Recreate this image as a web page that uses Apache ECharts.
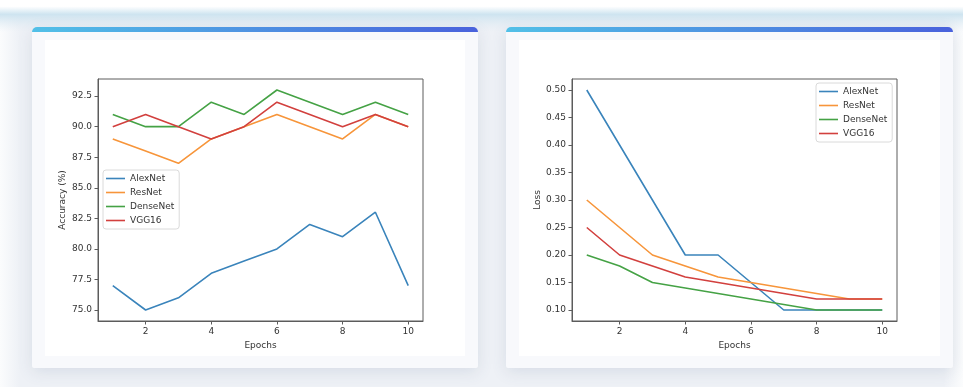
<!DOCTYPE html>
<html><head><meta charset="utf-8">
<script src="https://cdn.jsdelivr.net/npm/echarts@6/dist/echarts.min.js"></script>
<style>html,body{margin:0;padding:0;background:#fff;}#c{width:963px;height:387px;}</style>
</head><body><div id="c"></div><script>
const epochs = [1, 2, 3, 4, 5, 6, 7, 8, 9, 10];
const models = ['AlexNet', 'ResNet', 'DenseNet', 'VGG16'];
const accAlexNet  = [77, 75, 76, 78, 79, 80, 82, 81, 83, 77];
const accResNet   = [89, 88, 87, 89, 90, 91, 90, 89, 91, 90];
const accDenseNet = [91, 90, 90, 92, 91, 93, 92, 91, 92, 91];
const accVGG16    = [90, 91, 90, 89, 90, 92, 91, 90, 91, 90];
const lossAlexNet  = [0.50, 0.40, 0.30, 0.20, 0.20, 0.15, 0.10, 0.10, 0.10, 0.10];
const lossResNet   = [0.30, 0.25, 0.20, 0.18, 0.16, 0.15, 0.14, 0.13, 0.12, 0.12];
const lossDenseNet = [0.20, 0.18, 0.15, 0.14, 0.13, 0.12, 0.11, 0.10, 0.10, 0.10];
const lossVGG16    = [0.25, 0.20, 0.18, 0.16, 0.15, 0.14, 0.13, 0.12, 0.12, 0.12];
const xTicks = [2, 4, 6, 8, 10];
const accTicks = [75, 77.5, 80, 82.5, 85, 87.5, 90, 92.5];
const lossTicks = [0.10, 0.15, 0.20, 0.25, 0.30, 0.35, 0.40, 0.45, 0.50];

const colors = ['#3a84bb', '#f7953a', '#45a245', '#d2403e'];
const FONT = 'DejaVu Sans';
const TXT = '#333';
const SPINE = '#5c5c5c';

const accData = [accAlexNet, accResNet, accDenseNet, accVGG16];
const lossData = [lossAlexNet, lossResNet, lossDenseNet, lossVGG16];

function pairs(vals) { return epochs.map((e, i) => [e, vals[i]]); }

function xAxisCfg(gi) {
  return {
    type: 'value', gridIndex: gi, min: 0.55, max: 10.45,
    name: 'Epochs', nameLocation: 'middle', nameGap: 18,
    nameTextStyle: { fontFamily: FONT, fontSize: 9, color: TXT },
    axisLine: { show: true, onZero: false, lineStyle: { color: SPINE, width: 1 } },
    axisTick: { show: true, length: 3.5, customValues: xTicks, lineStyle: { color: SPINE } },
    axisLabel: { customValues: xTicks, margin: 6, fontFamily: FONT, fontSize: 9, color: TXT },
    splitLine: { show: false }
  };
}
function yAxisCfg(gi, min, max, ticks, digits, name, gap) {
  return {
    type: 'value', gridIndex: gi, min: min, max: max,
    name: name, nameLocation: 'middle', nameGap: gap,
    nameTextStyle: { fontFamily: FONT, fontSize: 9, color: TXT },
    axisLine: { show: true, onZero: false, lineStyle: { color: SPINE, width: 1 } },
    axisTick: { show: true, length: 3.5, customValues: ticks, lineStyle: { color: SPINE } },
    axisLabel: { customValues: ticks, margin: 6, fontFamily: FONT, fontSize: 9, color: TXT,
      formatter: v => Number(v).toFixed(digits) },
    splitLine: { show: false }
  };
}

const series = [];
models.forEach((m, i) => series.push({
  name: m, type: 'line', xAxisIndex: 0, yAxisIndex: 0, data: pairs(accData[i]),
  showSymbol: false, symbol: 'none', lineStyle: { width: 1.6, color: colors[i] }, itemStyle: { color: colors[i] },
  animation: false, z: 3 + i
}));
models.forEach((m, i) => series.push({
  name: m, type: 'line', xAxisIndex: 1, yAxisIndex: 1, data: pairs(lossData[i]),
  showSymbol: false, symbol: 'none', lineStyle: { width: 1.6, color: colors[i] }, itemStyle: { color: colors[i] },
  animation: false, z: 3 + i
}));

function legendCfg(left, top) {
  return {
    orient: 'vertical', left: left, top: top, data: models,
    icon: 'rect', itemWidth: 19, itemHeight: 1.6, itemGap: 3,
    padding: [3, 5, 3, 3],
    borderColor: '#dadada', borderWidth: 1, borderRadius: 3,
    backgroundColor: 'rgba(255,255,255,0.85)',
    textStyle: { fontFamily: FONT, fontSize: 9, color: TXT, lineHeight: 11 },
    selectedMode: false
  };
}

function card(x, y, w, h) {
  return [
    { type: 'rect', z: -5, shape: { x: x, y: y, width: w, height: h, r: [5, 5, 2, 2] },
      style: { fill: '#f8f9fc', shadowBlur: 16, shadowColor: 'rgba(70,90,130,0.14)', shadowOffsetY: 4 } },
    { type: 'rect', z: -4, shape: { x: x, y: y, width: w, height: 5, r: [5, 5, 0, 0] },
      style: { fill: new echarts.graphic.LinearGradient(0, 0, 1, 0, [
        { offset: 0, color: '#52c0e7' }, { offset: 1, color: '#4a62dc' }]) } },
    { type: 'rect', z: -3, shape: { x: x + 13, y: y + 13, width: w - 26, height: h - 25 },
      style: { fill: '#ffffff' } }
  ];
}

const chart = echarts.init(document.getElementById('c'), null, { renderer: 'canvas' });
chart.setOption({
  animation: false,
  backgroundColor: '#ffffff',
  graphic: [
    { type: 'rect', z: -10, shape: { x: 0, y: 0, width: 963, height: 387 },
      style: { fill: new echarts.graphic.LinearGradient(0, 0, 1, 0, [
        { offset: 0, color: '#fbfcfd' }, { offset: 0.02, color: '#eef1f6' },
        { offset: 0.98, color: '#eef1f6' }, { offset: 1, color: '#fbfcfd' }]) } },
    { type: 'rect', z: -9, shape: { x: 0, y: 0, width: 963, height: 32 },
      style: { fill: new echarts.graphic.LinearGradient(0, 0, 0, 1, [
        { offset: 0, color: 'rgba(255,255,255,1)' }, { offset: 0.2, color: 'rgba(255,255,255,1)' },
        { offset: 0.45, color: 'rgba(206,228,240,1)' }, { offset: 1, color: 'rgba(226,236,244,0)' }]) } },
    ...card(32, 27, 446, 341),
    ...card(506, 27, 447, 341)
  ],
  grid: [
    { left: 98, top: 79, width: 325, height: 242, show: true, borderColor: SPINE, borderWidth: 1, backgroundColor: '#fff', containLabel: false },
    { left: 572, top: 79, width: 325, height: 242, show: true, borderColor: SPINE, borderWidth: 1, backgroundColor: '#fff', containLabel: false }
  ],
  xAxis: [xAxisCfg(0), xAxisCfg(1)],
  yAxis: [
    yAxisCfg(0, 74.1, 93.9, accTicks, 1, 'Accuracy (%)', 31),
    yAxisCfg(1, 0.08, 0.52, lossTicks, 2, 'Loss', 30)
  ],
  legend: [legendCfg(103, 170), legendCfg(816, 83)],
  series: series
});
</script></body></html>
